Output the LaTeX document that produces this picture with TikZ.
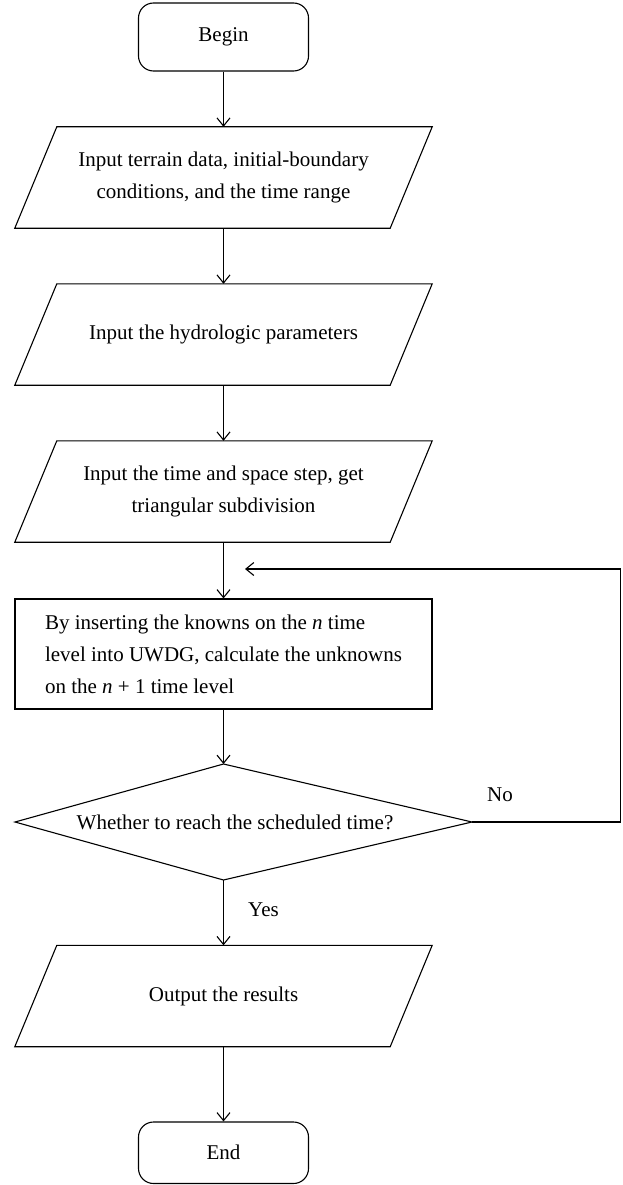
\documentclass[tikz,border=0pt]{standalone}
\usepackage{fontspec}
\setmainfont{Liberation Serif}
\usetikzlibrary{arrows.meta,calc}
\newcommand\parashape[1]{%
  \draw[line] ([xshift=21pt]#1.north west) -- ([xshift=21pt]#1.north east)
    -- ([xshift=-21pt]#1.south east) -- ([xshift=-21pt]#1.south west) -- cycle;}
\begin{document}
\begin{tikzpicture}[x=1pt,y=-1pt,
  line/.style={line width=1.1pt, line join=miter},
  arr/.style={line width=1.1pt,-{Straight Barb[length=8pt,width=13pt,line width=1.1pt]}},
  txt/.style={font=\fontsize{21}{32}\selectfont},
  term/.style={txt,draw,line width=1.1pt,rounded corners=15pt,minimum width=170pt,inner sep=0pt},
  ptext/.style={txt,minimum width=375pt,minimum height=101pt,inner sep=0pt,align=center},
  procbox/.style={txt,draw,line width=1.1pt,minimum width=417pt,minimum height=110pt,inner sep=0pt,align=left},
  lbl/.style={txt,inner sep=0pt}]
\useasboundingbox (0,0) rectangle (622,1185);

\node[term,minimum height=68pt] (begin) at (223.5,37) {Begin};

\node[ptext] (p1) at (223.5,177.5) {Input terrain data, initial-boundary\\conditions, and the time range};
\parashape{p1}

\node[ptext] (p2) at (223.5,334.5) {Input the hydrologic parameters};
\parashape{p2}

\node[ptext] (p3) at (223.5,491.5) {Input the time and space step, get\\triangular subdivision};
\parashape{p3}

\node[procbox] (calc) at (223.5,654) {By inserting the knowns on the \textit{n} time\\level into UWDG, calculate the unknowns\\on the \textit{n} + 1 time level};

\coordinate (dl) at (15,822);
\coordinate (dt) at (223.5,764);
\coordinate (dr) at (472,822);
\coordinate (db) at (223.5,880);
\draw[line] (dl) -- (dt) -- (dr) -- (db) -- cycle;
\node[lbl] (dtext) at (235,822) {Whether to reach the scheduled time?};

\node[ptext] (out) at (223.5,996) {Output the results};
\parashape{out}

\node[term,minimum height=61.5pt] (end) at (223.5,1152.75) {End};

\coordinate (c1) at (620.5,822);
\coordinate (c2) at (620.5,569);
\coordinate (loopend) at (245,569);

\draw[arr] (begin.south) -- (p1.north);
\draw[arr] (p1.south) -- (p2.north);
\draw[arr] (p2.south) -- (p3.north);
\draw[arr] (p3.south) -- (calc.north);
\draw[arr] (calc.south) -- (dt);
\draw[arr] (db) -- (out.north);
\draw[arr] (out.south) -- (end.north);
\draw[arr] (dr) -- (c1) -- (c2) -- (loopend);

\node[lbl,anchor=west] (yes) at (248,910) {Yes};
\node[lbl] (no) at (500,795) {No};
\end{tikzpicture}
\end{document}
